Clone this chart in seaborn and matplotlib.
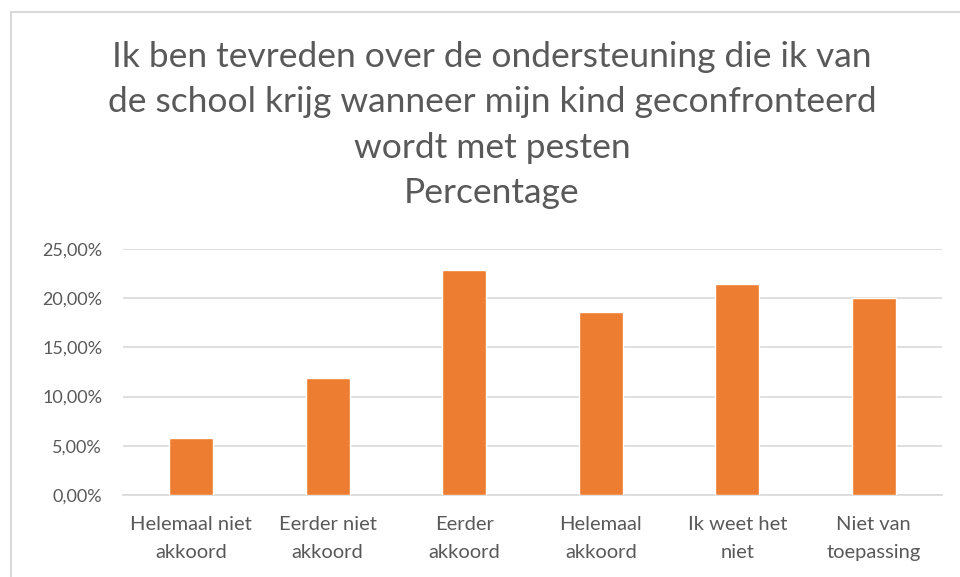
import matplotlib
matplotlib.use("Agg")
import matplotlib.pyplot as plt
import matplotlib.patches as mpatches
import seaborn as sns
import pandas as pd

# ==================================================
# DATA
# ==================================================

categories = [
    "Helemaal niet\nakkoord",
    "Eerder niet\nakkoord",
    "Eerder\nakkoord",
    "Helemaal\nakkoord",
    "Ik weet het\nniet",
    "Niet van\ntoepassing",
]

percentages = [5.80, 11.90, 22.90, 18.60, 21.40, 20.00]

y_ticks = [0, 5, 10, 15, 20, 25]

title = (
    "Ik ben tevreden over de ondersteuning die ik van\n"
    "de school krijg wanneer mijn kind geconfronteerd\n"
    "wordt met pesten\n"
    "Percentage"
)

df = pd.DataFrame({"categorie": categories, "percentage": percentages})

# ==================================================
# SETTINGS
# ==================================================

sns.set_style("white")
plt.rcParams["font.family"] = ["Lato", "DejaVu Sans"]

W, H = 960, 577
text_grey = "#595959"
grid_grey = "#D9D9D9"

fig = plt.figure(figsize=(W / 100, H / 100), dpi=100)

# chart border (cropped screenshot: only top and left visible)
fig.patches.append(
    mpatches.Rectangle(
        (11 / W, -0.1), 1.2, 1.1 - 12 / H,
        transform=fig.transFigure, fill=False,
        edgecolor=grid_grey, linewidth=1.5,
    )
)

ax = fig.add_axes([123 / W, 82 / H, (942 - 123) / W, (495 - 249) / H])

# ==================================================
# BARS
# ==================================================

sns.barplot(
    data=df,
    x="categorie",
    y="percentage",
    color="#ED7D31",
    width=0.32,
    saturation=1,
    ax=ax,
    zorder=3,
)

ax.set_ylim(0, 25)
ax.set_xlim(-0.5, len(categories) - 0.5)
ax.set_yticks(y_ticks)
ax.set_yticklabels([f"{v:.2f}%".replace(".", ",") for v in y_ticks])

ax.yaxis.grid(True, color=grid_grey, linewidth=1.2, zorder=0)
ax.set_axisbelow(True)

for side in ["top", "right", "left"]:
    ax.spines[side].set_visible(False)
ax.spines["bottom"].set_color(grid_grey)
ax.spines["bottom"].set_linewidth(1.2)

ax.tick_params(axis="both", length=0, colors=text_grey)
ax.tick_params(axis="y", labelsize=13, pad=15)
ax.tick_params(axis="x", labelsize=14.5, pad=15)
for lbl in ax.get_xticklabels():
    lbl.set_linespacing(1.8)

ax.set_xlabel("")
ax.set_ylabel("")

# ==================================================
# TITLE
# ==================================================

fig.text(
    492 / W, 1 - 125 / H, title,
    ha="center", va="center",
    fontsize=25.5, color=text_grey, linespacing=1.52,
)

fig.savefig("out.png", dpi=100, facecolor="white")
